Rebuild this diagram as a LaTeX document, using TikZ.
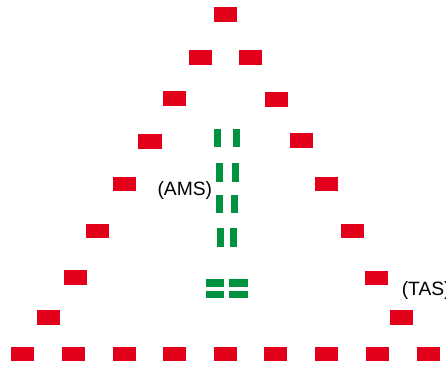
\documentclass[tikz,border=0pt]{standalone}
\usepackage{fontspec}
\setmainfont{Liberation Sans}
\definecolor{sigred}{RGB}{227,0,26}
\definecolor{siggreen}{RGB}{0,146,63}

\begin{document}
\begin{tikzpicture}[x=0.025cm,y=-0.025cm,
  redbar/.style={fill=sigred,inner sep=0pt,minimum width=0.575cm,minimum height=0.365cm},
  vbar/.style={fill=siggreen,inner sep=0pt,minimum width=0.18cm,minimum height=0.455cm},
  hbar/.style={fill=siggreen,inner sep=0pt,minimum width=0.46cm,minimum height=0.185cm},
  lab/.style={inner sep=0pt,anchor=base west,font=\fontsize{13.7}{16}\selectfont}]
\useasboundingbox (0,0) rectangle (446,367);

% red signals, left side from the top
\foreach \x/\y [count=\i] in {225.5/14.5,200.5/57.5,174.5/98.5,150/141.5,124.5/184,97.5/231,75.5/277.5,48.5/317.5}
  \node[redbar] (l\i) at (\x,\y) {};
% right side
\foreach \x/\y [count=\i] in {250/57.5,276.5/99.5,301.5/140.5,326.5/184,352/231,376.5/278,401.5/317.5}
  \node[redbar] (r\i) at (\x,\y) {};
% bottom row
\foreach \x [count=\i] in {22.5,73.5,124.5,174.5,225,275.5,326,377,428}
  \node[redbar] (b\i) at (\x,354) {};

% green marks
\foreach \xa/\xb/\y [count=\i] in {217.5/236.5/138,219.5/235.5/172.5,219.5/234.5/204,220.5/233.5/237.5}{
  \node[vbar] (g\i a) at (\xa,\y) {};
  \node[vbar] (g\i b) at (\xb,\y) {};
}
\node[hbar] (h1) at (215,283) {};
\node[hbar] (h2) at (238.5,283) {};
\node[hbar] (h3) at (215,294.5) {};
\node[hbar] (h4) at (238.5,294.5) {};

\node[lab] (ams) at (157.3,195) {(AMS)};
\node[lab] (tas) at (401.5,295) {(TAS)};
\end{tikzpicture}
\end{document}
